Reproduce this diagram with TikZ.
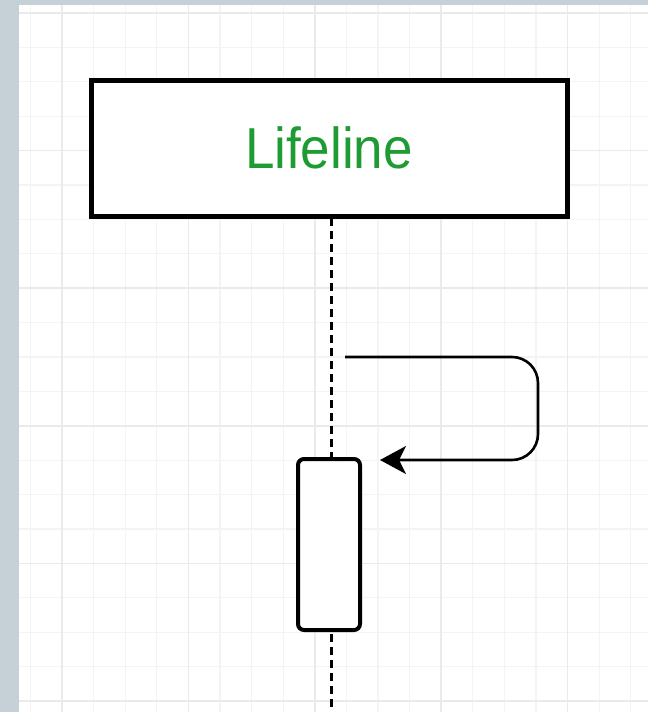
\documentclass[tikz,border=0pt]{standalone}
\usepackage{fontspec}
\setmainfont{Liberation Sans}
\usepackage{xcolor}
\usepackage{tikz}
\usetikzlibrary{positioning,arrows.meta,calc}
\definecolor{ink}{HTML}{000000}
\definecolor{frame}{HTML}{C6D0D7}
\definecolor{gridMajor}{HTML}{EAEAEA}
\definecolor{gridMinor}{HTML}{F4F4F4}
\definecolor{lifeGreen}{HTML}{1E9B33}
\tikzset{
  minorline/.style={draw=gridMinor, line width=1.2pt},
  majorline/.style={draw=gridMajor, line width=1.6pt},
}

\begin{document}
\begin{tikzpicture}[x=1pt, y=-1pt,
  headbox/.style={draw=ink, fill=white, line width=5pt, minimum width=476pt, minimum height=136pt, inner sep=0pt},
  actbox/.style={draw=ink, fill=white, line width=4pt, rounded corners=6pt, minimum width=62pt, minimum height=171pt, inner sep=0pt},
  lifeline/.style={draw=ink, line width=3pt, dash pattern=on 8pt off 5pt},
  msg/.style={draw=ink, line width=2.6pt, rounded corners=26pt, -{Stealth[length=26pt, width=28pt, inset=7pt]}}]
\useasboundingbox (0,0) rectangle (648,712);
% canvas and grid
\fill[frame] (0,0) rectangle (648,712);
\fill[white] (19,5) rectangle (648,712);
\begin{scope}
\clip (19,5) rectangle (648,712);
\foreach \i in {0,...,19} \draw[minorline] ({30.4+\i*31.6},5) -- ({30.4+\i*31.6},712);
\foreach \j in {0,...,20} \draw[minorline] (19,{13+\j*34.4}) -- (648,{13+\j*34.4});
\foreach \i in {1,5,9,13,17} \draw[majorline] ({30.4+\i*31.6},5) -- ({30.4+\i*31.6},712);
\foreach \j in {0,4,8,12,16,20} \draw[majorline] (19,{13+\j*34.4}) -- (648,{13+\j*34.4});
\end{scope}
% lifeline head and dashed line
\node[headbox] (head) at (329,148) {\textcolor{lifeGreen}{\scalebox{1}[1.09]{\fontsize{53}{60}\selectfont Lifeline}}};
\coordinate (tail) at (331,218);
\coordinate (bottom) at (331,712);
\draw[lifeline] (tail) -- (bottom);
% activation bar
\node[actbox] (act) at (329,544.5) {};
% self message
\coordinate (msgout) at (345,357);
\coordinate (msgin) at (380,460);
\draw[msg] (msgout) -- (538,357) -- (538,460) -- (msgin);
\end{tikzpicture}
\end{document}
